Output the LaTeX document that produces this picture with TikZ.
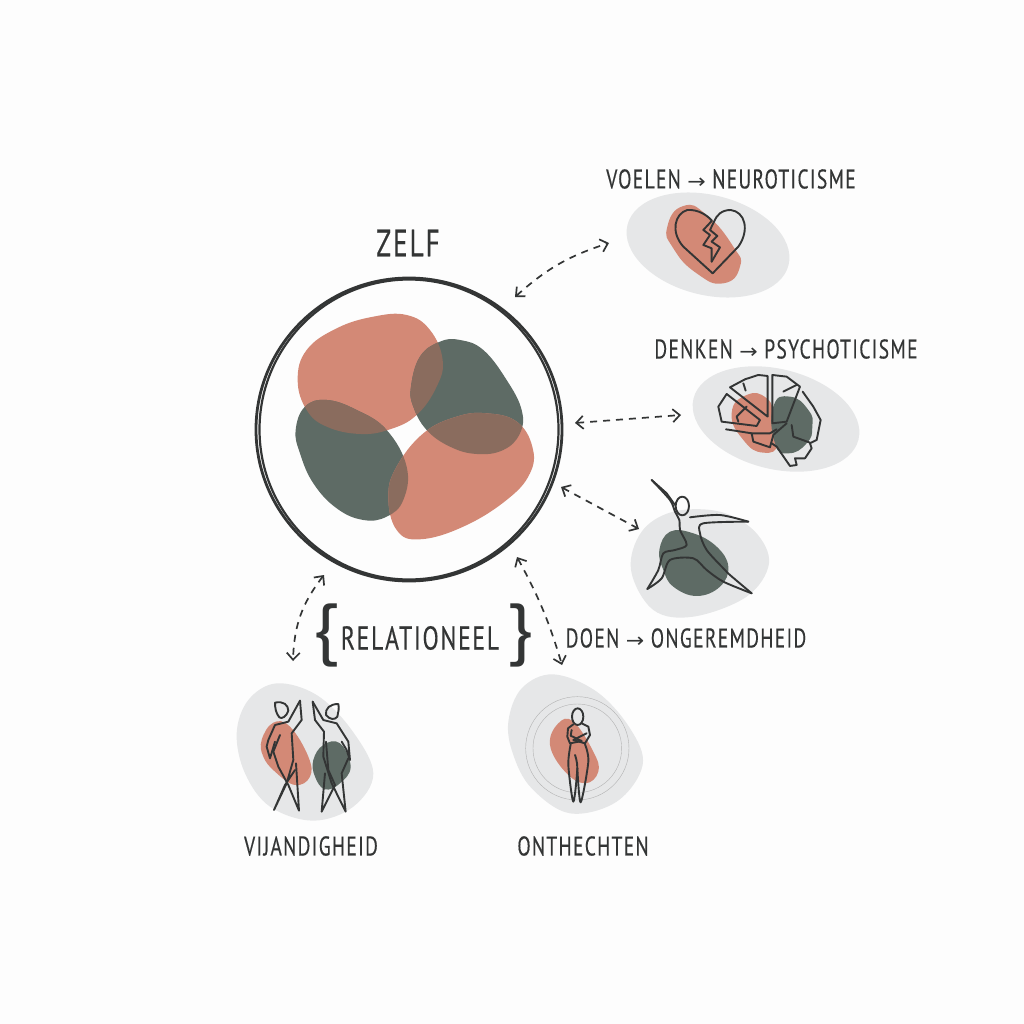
\documentclass[tikz,border=0pt]{standalone}
\usepackage{fontspec}
\setmainfont{PT Sans}[FakeStretch=0.72, LetterSpace=5, FakeBold=0.35]
\newfontfamily\arrowfont{DejaVu Sans}[FakeStretch=1.1]
\newfontfamily\bracefont{PT Sans}[FakeStretch=1.15]
\usetikzlibrary{positioning, arrows.meta, calc, shapes.geometric}
\definecolor{inkc}{HTML}{333535}
\definecolor{salmonc}{HTML}{D38976}
\definecolor{darkc}{HTML}{5E6B65}
\definecolor{overc}{HTML}{8A6C5E}
\definecolor{greyc}{HTML}{E6E7E8}
\definecolor{bgc}{HTML}{FDFDFD}
\newcommand{\toarrow}{{\arrowfont\fontsize{20}{20}\selectfont →}}
% --- Blob outlines of the central circle ---
\newcommand{\salmonA}{plot[smooth cycle, tension=.7] coordinates
  {(143,330) (170,240) (260,175) (370,140) (470,135) (540,180) (578,270) (560,350)
   (500,435) (420,478) (330,492) (230,470) (170,420)}}
\newcommand{\darkA}{plot[smooth cycle, tension=.7] coordinates
  {(137,480) (165,410) (230,390) (320,420) (410,480) (470,590) (460,690) (410,740)
   (340,750) (260,715) (190,640) (150,550)}}
\newcommand{\darkB}{plot[smooth cycle, tension=.7] coordinates
  {(483,350) (510,260) (570,215) (630,210) (700,240) (770,330) (815,420) (810,490)
   (760,540) (680,552) (600,530) (530,480) (490,410)}}
\newcommand{\salmonB}{plot[smooth cycle, tension=.7] coordinates
  {(415,680) (440,590) (520,490) (620,440) (710,430) (800,455) (847,530) (840,610)
   (770,690) (640,770) (510,808) (440,780)}}

\begin{document}
\begin{tikzpicture}[x=1pt, y=-1pt,
  % --- Style definitions ---
  lbl/.style={font=\fontsize{27}{27}\selectfont, text=inkc, inner sep=0pt},
  brc/.style={font=\bracefont\fontsize{68}{68}\selectfont, text=inkc, inner sep=0pt},
  ring/.style={draw=inkc, ellipse, inner sep=0pt, outer sep=0pt},
  gblob/.style={fill=greyc, draw=none},
  sblob/.style={fill=salmonc, draw=none},
  dblob/.style={fill=darkc, draw=none},
  gell/.style={gblob, ellipse, inner sep=0pt},
  icon/.style={draw=inkc, line width=1.9pt, line join=round, line cap=round},
  arrd/.style={{Straight Barb[length=7pt,width=13pt]}-{Straight Barb[length=7pt,width=13pt]},
               draw=inkc, line width=1.7pt, dash pattern=on 7pt off 6pt},
  zoomc/.style={shift={(250,270)}, x=0.3333pt, y=-0.3333pt},
  zoomv/.style={shift={(600,150)}, x=0.3333pt, y=-0.3333pt},
  zoomd/.style={shift={(560,470)}, x=0.3333pt, y=-0.3333pt},
  zoomh/.style={shift={(220,670)}, x=0.3333pt, y=-0.3333pt},
  zooma/.style={shift={(490,665)}, x=0.3333pt, y=-0.3333pt},
]

\useasboundingbox (0,0) rectangle (1024,1024);
\fill[bgc] (0,0) rectangle (1024,1024);

% ===== Central circle =====
\node[ring, line width=2.8pt, minimum width=306pt, minimum height=303pt] (zelf) at (409,429.5) {};
\node[ring, line width=2.2pt, minimum width=299pt, minimum height=300pt] (zelfin) at (409,429.5) {};

\begin{scope}[zoomc]
  \path[sblob] \salmonA;
  \path[dblob] \darkA;
  \path[dblob] \darkB;
  \path[sblob] \salmonB;
  % overlaps
  \begin{scope}\clip \salmonA; \fill[overc] \darkA; \end{scope}
  \begin{scope}\clip \salmonA; \fill[overc] \darkB; \end{scope}
  \begin{scope}\clip \salmonB; \fill[overc] \darkA; \end{scope}
  \begin{scope}\clip \salmonB; \fill[overc] \darkB; \end{scope}
\end{scope}

% ===== Labels =====
\node[lbl, font=\fontsize{38}{38}\selectfont] (zelflbl) at (408,243) {ZELF};
\node[lbl] (voelen) at (731,179) {VOELEN \toarrow{} NEUROTICISME};
\node[lbl] (denken) at (786,349) {DENKEN \toarrow{} PSYCHOTICISME};
\node[lbl] (doen) at (686,638) {DOEN \toarrow{} ONGEREMDHEID};
\node[lbl, font=\fontsize{33}{33}\selectfont] (rel) at (420,638) {RELATIONEEL};
\node[brc] (rell) at (326,635) {\{};
\node[brc] (relr) at (520,635) {\}};
\node[lbl] (vij) at (311,846) {VIJANDIGHEID};
\node[lbl] (ont) at (583,846) {ONTHECHTEN};

% ===== Voelen: broken heart =====
\node[gell, rotate=-14, minimum width=166pt, minimum height=100pt] (voelenblob) at (708,245) {};
\begin{scope}[zoomv]
  \path[sblob] plot[smooth cycle, tension=.9] coordinates
    {(202,230) (250,168) (320,195) (400,290) (420,350) (370,400) (290,370) (220,295)};
  \draw[icon] (338,370) -- (250,290) .. controls (210,245) and (225,190) .. (262,180)
    .. controls (295,178) and (320,195) .. (336,212)
    -- (310,240) -- (330,255) -- (310,285) -- (335,295) -- (335,335);
  \draw[icon] (338,370) -- (415,290) .. controls (450,240) and (435,185) .. (392,180)
    .. controls (365,180) and (350,195) .. (342,215)
    -- (330,240) -- (352,258) -- (335,275) -- (360,292) -- (335,335);
\end{scope}

% ===== Denken: brain =====
\node[gell, rotate=-14, minimum width=170pt, minimum height=100pt] (denkenblob) at (776,419) {};
\begin{scope}[zoomv]
  \path[sblob] plot[smooth cycle, tension=.9] coordinates
    {(395,790) (440,735) (500,745) (522,800) (535,880) (490,908) (430,870)};
  \path[dblob] plot[smooth cycle, tension=.9] coordinates
    {(520,770) (570,740) (625,780) (637,830) (620,880) (565,910) (525,880)};
  \draw[icon] (390,712) -- (435,688) -- (475,675) -- (503,678) -- (503,800) -- cycle;
  \draw[icon] (380,732) -- (355,770) -- (365,815) -- (470,828) -- (480,810) -- cycle;
  \draw[icon] (517,675) -- (517,820) -- (560,815) -- (600,710) -- (560,680) -- cycle;
  \draw[icon] (608,725) -- (640,770) -- (662,810) -- (650,870) -- (630,880) -- (635,895)
    -- (615,925) -- (585,925) -- (590,945) -- (570,948) -- (530,890) -- (515,880);
  \draw[icon] (378,838) -- (455,850) -- (460,875) -- (510,892) -- (520,855) -- (560,820);
  \draw[icon] (455,850) -- (510,850) -- (530,838);
  \draw[icon] (575,825) -- (580,860) -- (630,878);
  \draw[icon] (430,700) -- (437,722);
  \draw[icon] (550,725) -- (590,705);
  \draw[icon] (440,770) -- (410,800) -- (415,815);
\end{scope}

% ===== Doen: dancing figure =====
\begin{scope}[zoomd]
  \path[gblob] plot[smooth cycle, tension=.6] coordinates
    {(213,300) (245,185) (340,125) (480,125) (585,185) (627,280) (560,380) (400,440) (280,420)};
  \path[dblob] plot[smooth cycle, tension=.7] coordinates
    {(298,240) (330,185) (400,190) (470,230) (505,290) (480,350) (410,378) (340,350) (310,300)};
  \draw[icon] (367,108) ellipse (20 and 28);
  \draw[icon] plot[smooth, tension=.5] coordinates
    {(275,30) (330,90) (345,125) (358,150) (360,180) (380,225) (345,240) (310,250) (295,300) (262,357)};
  \draw[icon] (275,30) -- (320,70) -- (345,105);
  \draw[icon] plot[smooth, tension=.5] coordinates
    {(262,357) (305,325) (330,270) (400,265) (440,300) (490,335) (575,370)};
  \draw[icon] plot[smooth, tension=.5] coordinates
    {(575,370) (510,315) (495,300) (440,240) (420,190) (430,160) (565,155)};
  \draw[icon] plot[smooth, tension=.5] coordinates {(565,155) (480,135) (390,142)};
\end{scope}

% ===== Vijandigheid: two figures =====
\begin{scope}[zoomh]
  \path[gblob] plot[smooth cycle, tension=.6] coordinates
    {(50,190) (85,90) (170,40) (290,75) (395,180) (460,310) (400,410) (280,452) (150,410) (75,310)};
  \path[sblob] plot[smooth cycle, tension=.7] coordinates
    {(125,210) (160,158) (210,170) (265,260) (270,320) (225,345) (165,305) (130,260)};
  \path[dblob] plot[smooth cycle, tension=.7] coordinates
    {(280,270) (310,225) (360,220) (392,290) (360,340) (315,358) (285,320)};
  % left figure
  \draw[icon] (165,98) .. controls (190,92) and (205,105) .. (205,122) .. controls (200,140) and (185,148) .. (178,142) .. controls (168,130) and (165,115) .. (165,98);
  \draw[icon] (240,92) -- (205,155) -- (165,165) -- (145,210) -- (140,230) -- (150,265) -- (165,215);
  \draw[icon] (240,92) -- (245,150) -- (215,190) -- (220,270) -- (200,340) -- (162,420) -- (195,345) -- (225,300);
  \draw[icon] (180,195) -- (160,245) -- (175,290) -- (205,345) -- (237,422) -- (228,280);
  % right figure
  \draw[icon] (355,102) .. controls (330,102) and (315,115) .. (318,135) .. controls (330,150) and (345,150) .. (352,140) .. controls (355,125) and (358,115) .. (355,102);
  \draw[icon] (278,95) -- (310,150) -- (350,160) -- (385,215) -- (390,270) -- (380,240) -- (365,215);
  \draw[icon] (278,95) -- (285,150) -- (312,185) -- (310,260) -- (335,340) -- (377,425) -- (365,310) -- (385,265);
  \draw[icon] (318,215) -- (325,300) -- (345,345) -- (305,425) -- (315,310);
\end{scope}

% ===== Onthechten: closed figure =====
\begin{scope}[zooma]
  \path[gblob] plot[smooth cycle, tension=.6] coordinates
    {(55,170) (95,70) (190,28) (320,80) (420,190) (458,300) (380,410) (240,445) (125,370) (70,270)};
  \draw[gray!60, line width=.4pt] (262,250) circle (133);
  \draw[gray!60, line width=.4pt] (262,250) circle (155);
  \path[sblob] plot[smooth cycle, tension=.7] coordinates
    {(180,240) (205,175) (250,170) (310,260) (325,320) (285,355) (225,320)};
  \draw[icon] (263,155) ellipse (17 and 25);
  \draw[icon] (250,178) -- (234,190) -- (232,215) -- (240,235) -- (275,228) -- (242,212) -- (245,195);
  \draw[icon] (275,175) -- (295,185) -- (300,210) -- (285,235) -- (250,225) -- (290,205);
  \draw[icon] plot[smooth, tension=.5] coordinates
    {(242,238) (235,300) (250,410) (262,310) (255,270)};
  \draw[icon] plot[smooth, tension=.5] coordinates
    {(262,310) (272,412) (295,290) (285,238)};
\end{scope}

% ===== Arrow ends =====
\coordinate (a1) at (515,297);
\coordinate (b1) at (609,243);
\coordinate (a2) at (575,423);
\coordinate (b2) at (681,415);
\coordinate (a3) at (561,487);
\coordinate (b3) at (639,529);
\coordinate (a4) at (324,575);
\coordinate (b4) at (293,661);
\coordinate (a5) at (517,557);
\coordinate (b5) at (562,665);

% ===== Arrows =====
\draw[arrd] (a1) to[bend left=12] (b1);
\draw[arrd] (a2) -- (b2);
\draw[arrd] (a3) -- (b3);
\draw[arrd] (a4) to[bend right=18] (b4);
\draw[arrd] (a5) to[bend left=6] (b5);

\end{tikzpicture}
\end{document}
